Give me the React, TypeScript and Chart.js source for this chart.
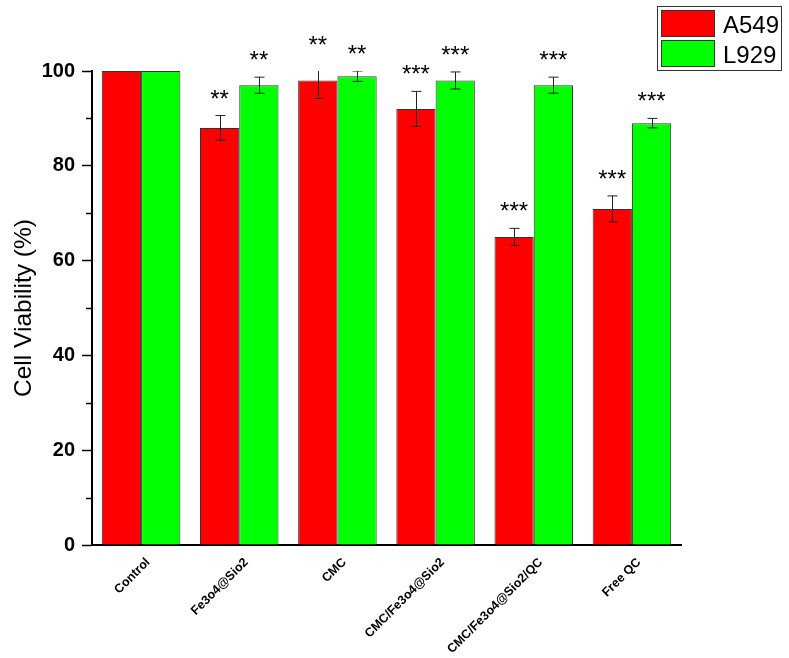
import React, { useEffect, useRef } from "react";
import { Chart, registerables } from "chart.js";

Chart.register(...registerables);

const categories = ["Control", "Fe3o4@Sio2", "CMC", "CMC/Fe3o4@Sio2", "CMC/Fe3o4@Sio2/QC", "Free QC"];
const seriesNames = ["A549", "L929"];
const a549Values = [100, 88, 98, 92, 65, 70.9];
const l929Values = [100, 97, 98.9, 98, 97, 89];
const a549Errors = [0, 2.6, 3.8, 3.7, 1.8, 2.75];
const l929Errors = [0, 1.7, 1.1, 1.8, 1.7, 1.0];
const a549Stars = ["", "**", "**", "***", "***", "***"];
const l929Stars = ["", "**", "**", "***", "***", "***"];
const yTickValues = [0, 20, 40, 60, 80, 100];
const yMinorTickValues = [10, 30, 50, 70, 90];

const FONT = "'Liberation Sans', Arial, Helvetica, sans-serif";
const colors = ["#FF0000", "#00FF00"];

const overlayPlugin = {
  id: "overlay",
  afterDatasetsDraw(chart: any) {
    const ctx = chart.ctx as CanvasRenderingContext2D;
    const area = chart.chartArea;
    const y = chart.scales.y;
    const errs = [a549Errors, l929Errors];
    const vals = [a549Values, l929Values];
    const stars = [a549Stars, l929Stars];

    // minor ticks on y axis
    ctx.save();
    ctx.strokeStyle = "#000";
    ctx.lineWidth = 1.5;
    yMinorTickValues.forEach((v) => {
      const py = Math.round(y.getPixelForValue(v)) + 0.5;
      ctx.beginPath();
      ctx.moveTo(area.left - 6, py);
      ctx.lineTo(area.left, py);
      ctx.stroke();
    });
    ctx.restore();

    // error bars (clipped to plot area)
    ctx.save();
    ctx.beginPath();
    ctx.rect(area.left, area.top, area.right - area.left, area.bottom - area.top);
    ctx.clip();
    ctx.strokeStyle = "#222";
    ctx.lineWidth = 1;
    for (let d = 0; d < 2; d++) {
      const meta = chart.getDatasetMeta(d);
      meta.data.forEach((bar: any, j: number) => {
        const e = errs[d][j];
        if (!e) return;
        const x = Math.round(bar.x) + 0.5;
        const top = y.getPixelForValue(vals[d][j] + e);
        const bot = y.getPixelForValue(vals[d][j] - e);
        ctx.beginPath();
        ctx.moveTo(x, top);
        ctx.lineTo(x, bot);
        ctx.moveTo(x - 5, top);
        ctx.lineTo(x + 5, top);
        ctx.moveTo(x - 5, bot);
        ctx.lineTo(x + 5, bot);
        ctx.stroke();
      });
    }
    ctx.restore();

    // significance stars
    ctx.save();
    ctx.fillStyle = "#000";
    ctx.font = `24px ${FONT}`;
    ctx.textAlign = "center";
    ctx.textBaseline = "alphabetic";
    for (let d = 0; d < 2; d++) {
      const meta = chart.getDatasetMeta(d);
      meta.data.forEach((bar: any, j: number) => {
        const s = stars[d][j];
        if (!s) return;
        const top = y.getPixelForValue(vals[d][j] + errs[d][j]);
        const centerY = top - 19;
        ctx.fillText(s, bar.x, centerY + 10);
      });
    }
    ctx.restore();
  },
  afterDraw(chart: any) {
    const ctx = chart.ctx as CanvasRenderingContext2D;
    ctx.save();
    // legend box
    ctx.fillStyle = "#fff";
    ctx.fillRect(657, 6, 125, 65);
    ctx.strokeStyle = "#333";
    ctx.lineWidth = 1;
    ctx.strokeRect(657.5, 6.5, 124, 64);
    const rows = [
      { y: 10, base: 33 },
      { y: 40, base: 63 },
    ];
    rows.forEach((r, i) => {
      ctx.fillStyle = colors[i];
      ctx.fillRect(661, r.y, 54, 27);
      ctx.strokeStyle = "#333";
      ctx.strokeRect(661.5, r.y + 0.5, 53, 26);
      ctx.fillStyle = "#000";
      ctx.font = `24px ${FONT}`;
      ctx.textAlign = "left";
      ctx.textBaseline = "alphabetic";
      ctx.fillText(seriesNames[i], 723, r.base);
    });
    ctx.restore();
  },
};

export default function App() {
  const ref = useRef<HTMLCanvasElement | null>(null);
  useEffect(() => {
    if (!ref.current) return;
    const chart = new Chart(ref.current, {
      type: "bar",
      data: {
        labels: categories,
        datasets: [
          {
            label: seriesNames[0],
            data: a549Values,
            backgroundColor: colors[0],
            borderColor: "#333",
            borderWidth: 1,
            categoryPercentage: 0.8,
            barPercentage: 1.0,
          },
          {
            label: seriesNames[1],
            data: l929Values,
            backgroundColor: colors[1],
            borderColor: "#333",
            borderWidth: 1,
            categoryPercentage: 0.8,
            barPercentage: 1.0,
          },
        ],
      },
      options: {
        responsive: false,
        animation: false,
        devicePixelRatio: 1,
        layout: { padding: { left: 0, right: 108, top: 71, bottom: 0 } },
        plugins: {
          legend: { display: false },
          tooltip: { enabled: false },
        },
        scales: {
          x: {
            grid: { display: false, drawTicks: false },
            border: { display: true, color: "#000", width: 2 },
            ticks: {
              autoSkip: false,
              maxRotation: 45,
              minRotation: 45,
              color: "#000",
              padding: 10,
              labelOffset: 7,
              font: { family: FONT, size: 12.5, weight: "bold" },
            },
            afterFit(scale: any) {
              scale.height = 113;
            },
          },
          y: {
            min: 0,
            max: 100,
            afterBuildTicks(scale: any) {
              scale.ticks = yTickValues.map((v) => ({ value: v }));
            },
            grid: {
              drawOnChartArea: false,
              drawTicks: true,
              tickLength: 10,
              tickColor: "#000",
              tickWidth: 1.5,
            },
            border: { display: true, color: "#000", width: 2 },
            ticks: {
              color: "#000",
              padding: 7,
              font: { family: FONT, size: 20, weight: "bold" },
            },
            title: {
              display: true,
              text: "Cell Viability (%)",
              color: "#000",
              font: { family: FONT, size: 24.5 },
              padding: { top: 10, bottom: 0 },
            },
            afterFit(scale: any) {
              scale.width = 92;
            },
          },
        },
      },
      plugins: [overlayPlugin],
    });
    return () => chart.destroy();
  }, []);
  return (
    <div style={{ position: "absolute", left: 0, top: 0, width: 789, height: 658, background: "#fff" }}>
      <canvas ref={ref} width={789} height={658} style={{ width: 789, height: 658, display: "block" }} />
    </div>
  );
}
